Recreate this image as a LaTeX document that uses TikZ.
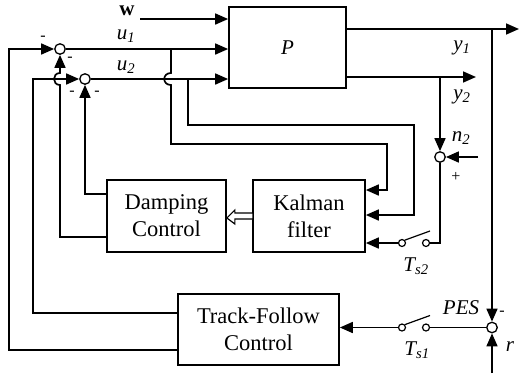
\documentclass[tikz,border=0pt]{standalone}
\usepackage{fontspec}
\setmainfont{Liberation Serif}
\usetikzlibrary{arrows.meta}

\tikzset{
  blk/.style={draw, line width=1.7pt, align=center, inner sep=0pt,
    font=\fontsize{22.5}{27}\selectfont},
  sumnode/.style={draw, circle, line width=1.3pt, minimum size=10.5pt, inner sep=0pt},
  swnode/.style={draw, circle, line width=1.2pt, minimum size=7pt, inner sep=0pt},
  wire/.style={line width=1.7pt},
  sig/.style={wire, -{Triangle[length=13pt,width=11pt]}},
  lbl/.style={inner sep=0pt, font=\fontsize{21}{24}\selectfont},
  sgn/.style={inner sep=0pt, font=\fontsize{16}{16}\selectfont},
}
\newcommand{\subit}[2]{\textit{#1\textsubscript{#2}}}

\begin{document}
\begin{tikzpicture}[x=1pt,y=-1pt]
  \useasboundingbox (0,0) rectangle (519,373);

  %% Blocks
  \node[blk, minimum width=117pt, minimum height=81pt, font=\fontsize{21}{24}\selectfont]
    (P) at (287.5,47.5) {\textit{P}};
  \node[blk, minimum width=119pt, minimum height=72pt] (damp) at (166.5,216) {Damping\\Control};
  \node[blk, minimum width=112pt, minimum height=72pt] (kal) at (309,216) {Kalman\\filter};
  \node[blk, minimum width=161pt, minimum height=71pt] (track) at (258.5,329.5) {Track-Follow\\Control};

  %% Summing junctions
  \node[sumnode] (s1) at (60,49) {};
  \node[sumnode] (s2) at (85,79) {};
  \node[sumnode] (sn) at (440,157) {};
  \node[sumnode] (sp) at (492,327.5) {};

  %% Sampling switches
  \node[swnode] (a2) at (402,243) {};
  \node[swnode] (b2) at (426,243) {};
  \node[swnode] (a1) at (402,327.5) {};
  \node[swnode] (b1) at (426,327.5) {};
  \draw[wire, line width=1.2pt] (a2.north east) -- (430,231);
  \draw[wire, line width=1.2pt] (a1.north east) -- (430,315.5);

  %% Plant inputs
  \coordinate (win) at (140,19);
  \draw[sig] (win) -- (win -| P.west);
  \draw[sig] (s1) -- (s1 -| P.west);
  \draw[sig] (s2) -- (s2 -| P.west);

  %% Plant outputs
  \coordinate (y1a) at ([yshift=18.5pt]P.east);
  \coordinate (y2a) at ([yshift=-29.5pt]P.east);
  \coordinate (y1out) at (519,29);
  \coordinate (y2out) at (476,77);
  \draw[sig] (y1a) -- (y1out);
  \draw[sig] (y2a) -- (y2out);
  \draw[sig] (sn |- y2a) -- (sn);
  \draw[sig] (sp |- y1a) -- (sp);
  \coordinate (n2in) at (478,157);
  \draw[sig] (n2in) -- (sn);
  \coordinate (rin) at (492,373);
  \draw[sig] (rin) -- (sp);

  %% Measurement paths through switches
  \draw[wire] (sn) |- (b2);
  \draw[sig] (a2) -- (a2 -| kal.east);
  \draw[wire] (sp) -- (b1);
  \draw[sig] (a1) -- (a1 -| track.east);

  %% Control signals to the Kalman filter
  \coordinate (j1) at (171,49);
  \coordinate (j2) at (188,79);
  \coordinate (k1) at ([yshift=26pt]kal.east);
  \coordinate (k2) at ([yshift=1pt]kal.east);
  \draw[sig] (j1) -- ([yshift=-24pt]j1) .. controls +(-9pt,0) and +(-9pt,0) ..
    ([yshift=-36pt]j1) -- (171,144) -- (387,144) |- (k1);
  \draw[sig] (j2) -- (188,125) -- (414,125) |- (k2);

  %% Estimate to damping controller
  \coordinate (ha) at ([yshift=-2pt]damp.east);
  \draw[line width=1.2pt, fill=white] (ha) -- ++(8,-8) -- ++(0,3) -- ++(18,0)
    -- ++(0,6) -- ++(-18,0) -- ++(0,5) -- cycle;

  %% Damping control feedback
  \draw[sig] ([yshift=22pt]damp.west) -| (s2);
  \coordinate (h1) at (s1 |- s2);
  \draw[sig] ([yshift=-21pt]damp.west) -| ([yshift=-6pt]h1)
    .. controls +(-8pt,0) and +(-8pt,0) .. ([yshift=6pt]h1) -- (s1);

  %% Track-follow feedback
  \draw[sig] ([yshift=16.5pt]track.west) -| (33,79) -- (s2);
  \draw[sig] ([yshift=-20.5pt]track.west) -| (9,49) -- (s1);

  %% Labels
  \node[lbl] (wlbl) at (127,11) {\textbf{w}};
  \node[lbl] (u1lbl) at (126,36) {\subit{u}{1}};
  \node[lbl] (u2lbl) at (126,67) {\subit{u}{2}};
  \node[lbl] (y1lbl) at (462,48) {\subit{y}{1}};
  \node[lbl] (y2lbl) at (462,97) {\subit{y}{2}};
  \node[lbl] (n2lbl) at (461,138) {\subit{n}{2}};
  \node[lbl] (ts2lbl) at (416,266) {\subit{T}{s2}};
  \node[lbl] (ts1lbl) at (417,350) {\subit{T}{s1}};
  \node[lbl] (peslbl) at (461,308) {\textit{PES}};
  \node[lbl] (rlbl) at (510,347) {\textit{r}};

  %% Signs
  \node[sgn] (m1) at (43,38) {-};
  \node[sgn] (m2) at (70,59) {-};
  \node[sgn] (m3) at (72,93) {-};
  \node[sgn] (m4) at (97,93) {-};
  \node[sgn] (pn) at (456,177) {+};
  \node[sgn] (mp) at (502,313) {-};
\end{tikzpicture}
\end{document}
